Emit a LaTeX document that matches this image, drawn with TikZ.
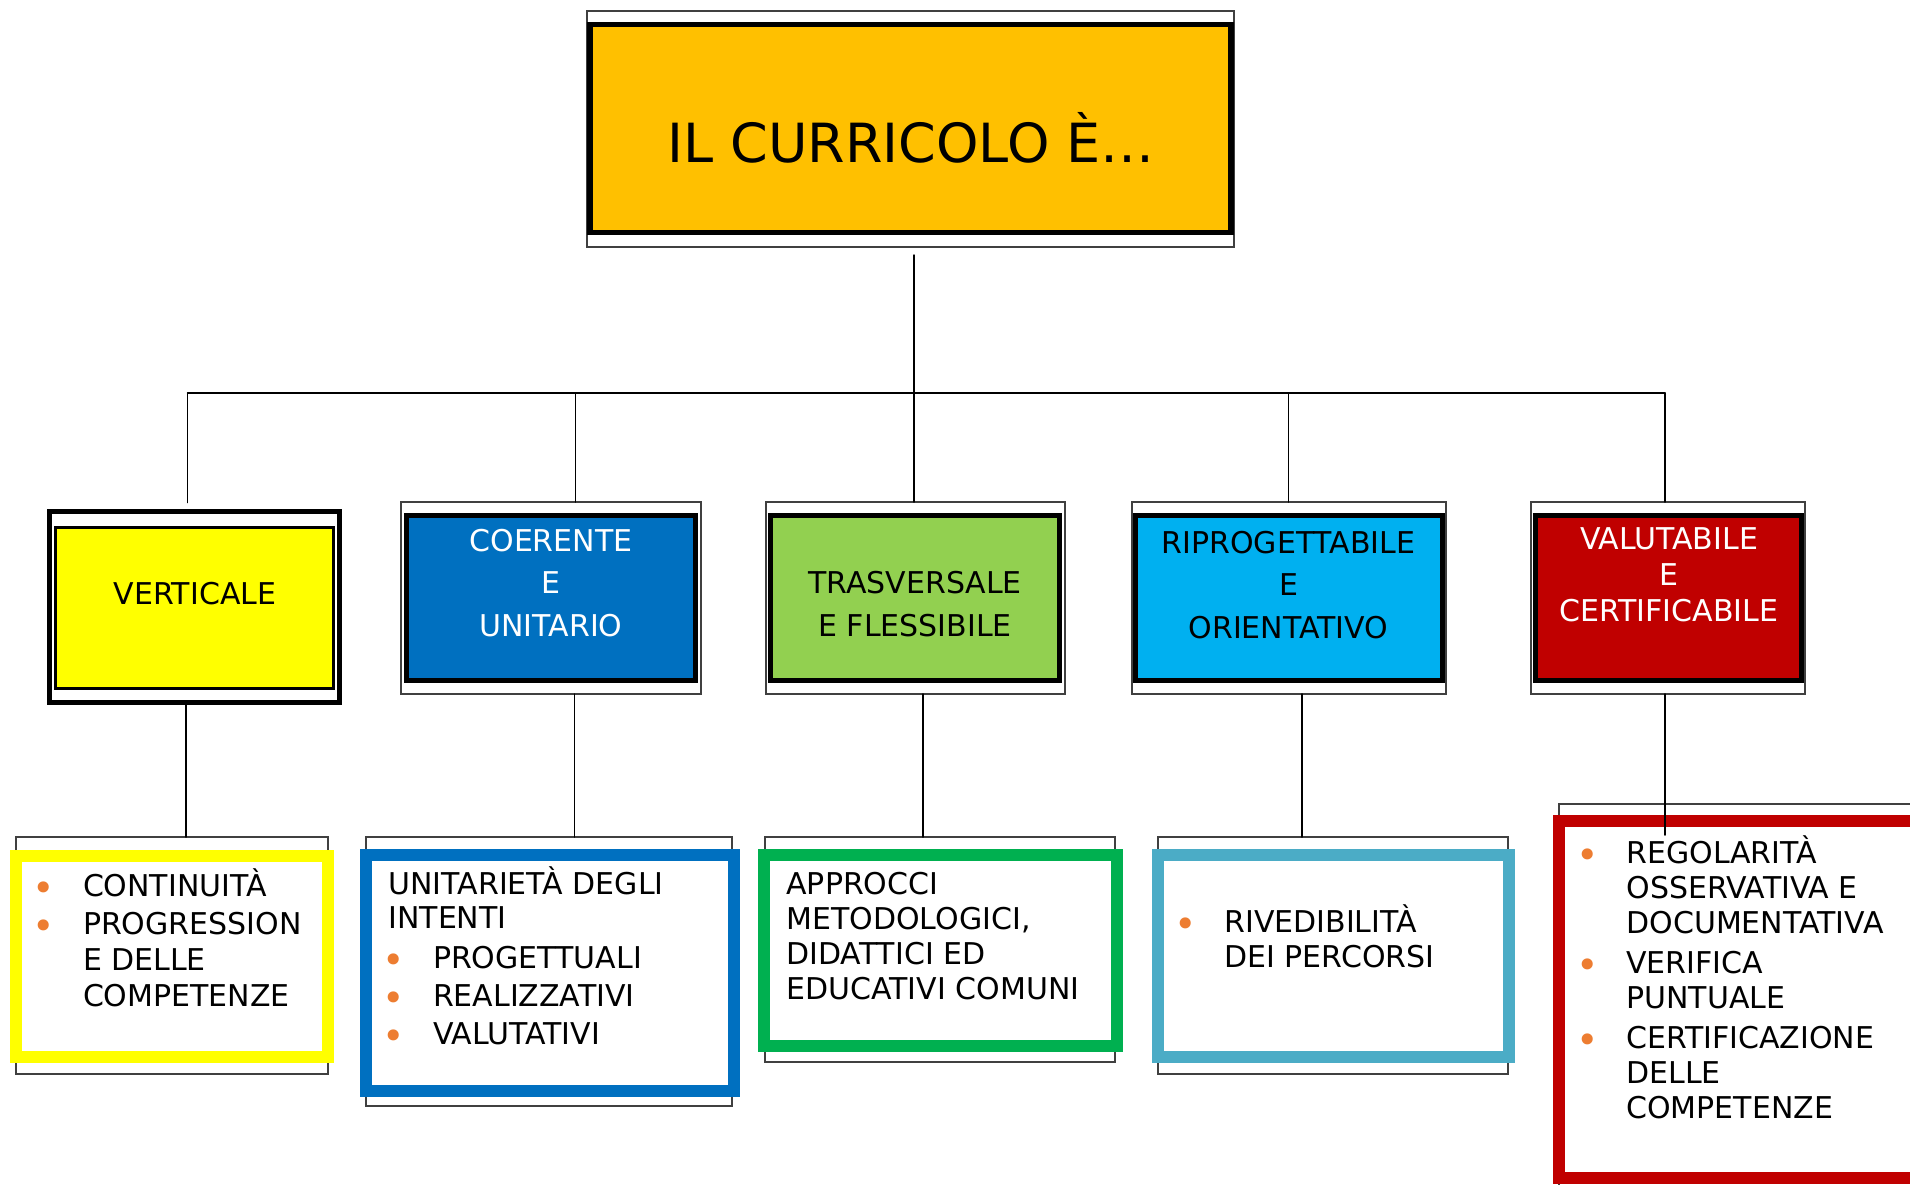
\documentclass[tikz,border=0pt]{standalone}
\usepackage{fontspec}
\setmainfont{DejaVu Sans}
\usepackage{tikz}
\definecolor{titolo}{HTML}{FFC000}
\definecolor{giallo}{HTML}{FFFF00}
\definecolor{blu}{HTML}{0070C0}
\definecolor{verde}{HTML}{92D050}
\definecolor{azzurro}{HTML}{00B0F0}
\definecolor{rosso}{HTML}{C00000}
\definecolor{verdescuro}{HTML}{00B050}
\definecolor{celeste}{HTML}{4BACC6}
\definecolor{punto}{HTML}{ED7D31}
\newcommand{\pallino}{\makebox[0pt][c]{\raisebox{-2.3pt}{\textcolor{punto}{\fontsize{19}{19}\selectfont\textbullet}}}\hspace*{19.5pt}}
\newcommand{\rientro}{\hspace*{19.5pt}}
\newcommand{\alto}{\rule{0pt}{15pt}}

\begin{document}
\begin{tikzpicture}[line cap=round,line join=round,x=0.5pt,y=-0.5pt,
  cornice/.style={draw=black!75,line width=0.6pt,line join=miter,fill=white,inner sep=0pt,outer sep=0pt},
  scatola/.style={draw=black,line width=2.5pt,line join=miter,fill=#1,inner sep=0pt,outer sep=0pt},
  elenco/.style={draw=#1,line width=6pt,line join=miter,fill=white,inner sep=0pt,outer sep=0pt},
  testo/.style={inner sep=0pt,align=center,anchor=north,font=\fontsize{15}{21.25}\selectfont},
  voce/.style={inner sep=0pt,align=left,anchor=north west,font=\fontsize{15}{17.5}\selectfont},
  filo/.style={draw=black,line width=0.75pt}]
\clip (0,0) rectangle (1910,1184);

\node[cornice,minimum width=323.5pt,minimum height=118pt] (g0) at (910.5,129) {};
\node[scatola=titolo,line width=2.75pt,minimum width=320.5pt,minimum height=104pt] (t0) at (910.5,128.5) {};
\node[inner sep=0pt,anchor=base,font=\fontsize{27}{32}\selectfont] (titolo) at (911,162) {IL CURRICOLO È…};

\node[draw=black,line width=2.5pt,line join=miter,fill=white,inner sep=0pt,outer sep=0pt,minimum width=145pt,minimum height=95.5pt] (v1) at (194.5,607) {};
\node[scatola=giallo,line width=1.5pt,minimum width=139pt,minimum height=80.5pt] (b1) at (194.5,608) {};
\node[cornice,minimum width=150pt,minimum height=96pt] (f2) at (551,598) {};
\node[scatola=blu,minimum width=144.5pt,minimum height=82.5pt] (b2) at (551,598) {};
\node[cornice,minimum width=149.5pt,minimum height=96pt] (f3) at (915.5,598) {};
\node[scatola=verde,minimum width=144.5pt,minimum height=82.5pt] (b3) at (915,598) {};
\node[cornice,minimum width=157pt,minimum height=96pt] (f4) at (1289,598) {};
\node[scatola=azzurro,minimum width=153.5pt,minimum height=82.5pt] (b4) at (1289,598) {};
\node[cornice,minimum width=137pt,minimum height=96pt] (f5) at (1668,598) {};
\node[scatola=rosso,minimum width=133pt,minimum height=82.5pt] (b5) at (1668.5,598) {};

\node[testo] (s1) at (195,574) {\alto VERTICALE};
\node[testo,text=white] (s2) at (551,521) {\alto COERENTE\\E\\UNITARIO};
\node[testo,font=\fontsize{15}{21.5}\selectfont] (s3) at (915,563) {\alto TRASVERSALE\\E FLESSIBILE};
\node[testo] (s4) at (1288.5,523) {\alto RIPROGETTABILE\\E\\ORIENTATIVO};
\node[testo,text=white,font=\fontsize{15}{18}\selectfont] (s5) at (1669,519) {\alto VALUTABILE\\E\\CERTIFICABILE};

\node[cornice,minimum width=156pt,minimum height=118.5pt] (g1) at (172,955.5) {};
\node[elenco=giallo,minimum width=156pt,minimum height=100.5pt] (h1) at (172,956) {};
\node[cornice,minimum width=183pt,minimum height=134.5pt] (g2) at (549,971.5) {};
\node[elenco=blu,minimum width=184pt,minimum height=118pt] (h2) at (550,973) {};
\node[cornice,minimum width=175pt,minimum height=112.5pt] (g3) at (940,949.5) {};
\node[elenco=verdescuro,minimum width=176.5pt,minimum height=95.5pt] (h3) at (940.5,950.5) {};
\node[cornice,minimum width=175pt,minimum height=118.5pt] (g4) at (1333,955.5) {};
\node[elenco=celeste,minimum width=175.5pt,minimum height=101pt] (h4) at (1333,955.5) {};
\node[cornice,minimum width=190pt,minimum height=198pt] (g5) at (1749,1002) {};
\node[elenco=rosso,minimum width=190pt,minimum height=178.5pt] (h5) at (1749,999.5) {};

\node[voce,font=\fontsize{15}{18}\selectfont] (l1) at (43.6,866) {\alto\pallino CONTINUITÀ\\[1pt]\pallino PROGRESSION\\\rientro E DELLE\\\rientro COMPETENZE};
\node[voce,font=\fontsize{15}{17}\selectfont] (l2) at (388,864) {\alto UNITARIETÀ DEGLI\\INTENTI\\[3pt]\hspace*{2.8pt}\pallino PROGETTUALI\\[2pt]\hspace*{2.8pt}\pallino REALIZZATIVI\\[2pt]\hspace*{2.8pt}\pallino VALUTATIVI};
\node[voce] (l3) at (786,864) {\alto APPROCCI\\METODOLOGICI,\\DIDATTICI ED\\EDUCATIVI COMUNI};
\node[voce] (l4) at (1185,902) {\alto\pallino RIVEDIBILITÀ\\\rientro DEI PERCORSI};
\node[voce] (l5) at (1587,833) {\alto\pallino REGOLARITÀ\\\rientro OSSERVATIVA E\\\rientro DOCUMENTATIVA\\[2.5pt]\pallino VERIFICA\\\rientro PUNTUALE\\[2.5pt]\pallino CERTIFICAZIONE\\\rientro DELLE\\\rientro COMPETENZE};

\coordinate (bus) at (914,393);
\foreach \n/\x in {1/187.5,2/575.5,3/914,4/1288.5,5/1665}
\coordinate (d\n) at (\x,393);
\foreach \n/\x in {1/186,2/574.5,3/923,4/1302,5/1665}
\coordinate (e\n) at (\x,700);
\draw[filo,shorten <=4pt] (g0.south -| bus) -- (bus);
\draw[filo] (d1) -- (d5);
\draw[filo,shorten >=4.5pt] (d1) -- (d1 |- v1.north);
\foreach \n in {2,...,5}
\draw[filo] (d\n) -- (d\n |- f\n.north);
\draw[filo] (e1 |- v1.south) -- (e1 |- g1.north);
\foreach \n in {2,3,4}
\draw[filo] (e\n |- f\n.south) -- (e\n |- g\n.north);
\draw[filo,shorten >=-7pt] (e5 |- f5.south) -- (e5 |- h5.north);
\end{tikzpicture}
\end{document}
